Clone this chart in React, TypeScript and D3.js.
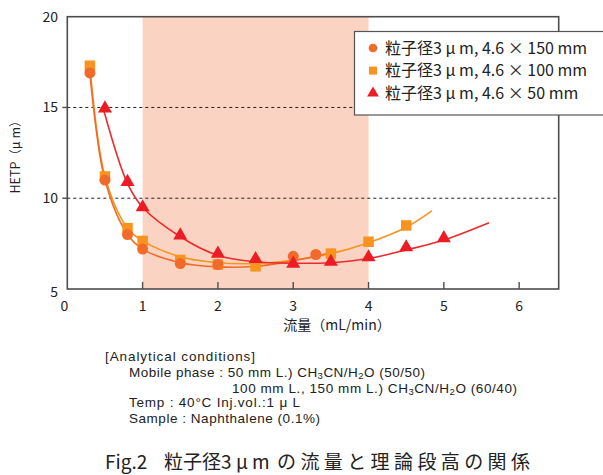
import * as React from "react";
import * as d3 from "d3";

// measured points
const flow150 = [0.3, 0.5, 0.8, 1.0, 1.5, 2.0, 3.0, 3.3];
const hetp150 = [16.9, 11.0, 8.0, 7.2, 6.4, 6.35, 6.8, 6.9];
const flow100 = [0.3, 0.5, 0.8, 1.0, 1.5, 2.0, 2.5, 3.5, 4.0, 4.5];
const hetp100 = [17.3, 11.2, 8.35, 7.65, 6.6, 6.35, 6.25, 6.95, 7.6, 8.5];
const flow50 = [0.5, 0.8, 1.0, 1.5, 2.0, 2.5, 3.0, 3.5, 4.0, 4.5, 5.0];
const hetp50 = [14.95, 10.9, 9.5, 7.95, 6.95, 6.65, 6.4, 6.5, 6.75, 7.3, 7.8];

// fitted curves
const fitFlow150 = [0.3, 0.5, 0.8, 1.0, 1.5, 2.0, 2.5, 3.0, 3.5];
const fitHetp150 = [16.9, 11.0, 8.0, 7.2, 6.45, 6.22, 6.25, 6.55, 7.0];
const fitFlow100 = [0.3, 0.5, 0.8, 1.0, 1.5, 2.0, 2.5, 3.0, 3.5, 4.0, 4.5, 4.84];
const fitHetp100 = [17.3, 11.2, 8.35, 7.65, 6.78, 6.45, 6.4, 6.6, 6.95, 7.55, 8.4, 9.3];
const fitFlow50 = [0.48, 0.8, 1.0, 1.5, 2.0, 2.5, 3.0, 3.5, 4.0, 4.5, 5.0, 5.6];
const fitHetp50 = [14.9, 10.8, 9.5, 7.88, 6.85, 6.5, 6.42, 6.45, 6.68, 7.15, 7.7, 8.65];

const xTicks = [0, 1, 2, 3, 4, 5, 6];
const yTicks = [5, 10, 15, 20];
const gridLines = [10, 15];
const shadeRange = [1, 4];

const legendLabels = [
  "粒子径3 μ m, 4.6 × 150 mm",
  "粒子径3 μ m, 4.6 × 100 mm",
  "粒子径3 μ m, 4.6 × 50 mm",
];

const FONT = "'Noto Sans CJK JP', 'Noto Sans', sans-serif";
const LATIN = "'Liberation Sans', Arial, sans-serif";

function App() {
  const ref = React.useRef<SVGSVGElement>(null);

  React.useEffect(() => {
    const svg = d3.select(ref.current);
    svg.selectAll("*").remove();

    const left = 67.3, right = 558.7, top = 16.7, bottom = 289;
    const x = d3.scaleLinear().domain([0, 6.525]).range([left, right]);
    const y = d3.scaleLinear().domain([5, 20]).range([bottom, top]);

    const series = [
      { flow: flow100, hetp: hetp100, fx: fitFlow100, fy: fitHetp100, color: "#f7931e", line: "#f7941d", shape: "square" },
      { flow: flow150, hetp: hetp150, fx: fitFlow150, fy: fitHetp150, color: "#f26a2a", line: "#f06a28", shape: "circle" },
      { flow: flow50, hetp: hetp50, fx: fitFlow50, fy: fitHetp50, color: "#ed1c24", line: "#ee2a2e", shape: "triangle" },
    ];
    const symType = (s: string) =>
      s === "circle" ? d3.symbolCircle : s === "square" ? d3.symbolSquare : d3.symbolTriangle;

    // shaded flow range
    svg.append("rect")
      .attr("x", x(shadeRange[0]))
      .attr("y", top)
      .attr("width", x(shadeRange[1]) - x(shadeRange[0]))
      .attr("height", bottom - top)
      .attr("fill", "#fad3c3");

    svg.selectAll("line.grid")
      .data(gridLines)
      .enter()
      .append("line")
      .attr("x1", left)
      .attr("x2", right)
      .attr("y1", d => y(d))
      .attr("y2", d => y(d))
      .attr("stroke", "#222")
      .attr("stroke-width", 1)
      .attr("stroke-dasharray", "3,3");

    const curve = d3.line().curve(d3.curveCatmullRom.alpha(0.5));
    series.forEach(s => {
      const pts = s.fx.map((f, i) => [x(f), y(s.fy[i])] as [number, number]);
      svg.append("path")
        .attr("d", curve(pts))
        .attr("fill", "none")
        .attr("stroke", s.line)
        .attr("stroke-width", 1.6);
    });

    const markerSize: Record<string, number> = { circle: 95, square: 110, triangle: 85 };
    series.forEach(s => {
      svg.append("g")
        .selectAll("path")
        .data(s.flow)
        .enter()
        .append("path")
        .attr("d", d3.symbol().type(symType(s.shape)).size(markerSize[s.shape])())
        .attr("transform", (d, i) => "translate(" + x(d) + "," + y(s.hetp[i]) + ")")
        .attr("fill", s.color);
    });

    // frame
    svg.append("rect")
      .attr("x", left)
      .attr("y", top)
      .attr("width", right - left)
      .attr("height", bottom - top)
      .attr("fill", "none")
      .attr("stroke", "#4d4d4d")
      .attr("stroke-width", 1.6);

    // x ticks point inward
    svg.selectAll("line.xtick")
      .data(xTicks.filter(d => d > 0))
      .enter()
      .append("line")
      .attr("x1", d => x(d))
      .attr("x2", d => x(d))
      .attr("y1", bottom)
      .attr("y2", bottom - 7)
      .attr("stroke", "#4d4d4d")
      .attr("stroke-width", 1.4);

    svg.selectAll("text.xlab")
      .data(xTicks)
      .enter()
      .append("text")
      .attr("x", d => x(d) - (d === 0 ? 3 : 0))
      .attr("y", 311)
      .attr("text-anchor", "middle")
      .attr("font-family", FONT)
      .attr("font-size", 14)
      .attr("fill", "#222")
      .text(d => d);

    svg.selectAll("line.ytick")
      .data(gridLines)
      .enter()
      .append("line")
      .attr("x1", left - 5)
      .attr("x2", left)
      .attr("y1", d => y(d))
      .attr("y2", d => y(d))
      .attr("stroke", "#4d4d4d")
      .attr("stroke-width", 1.4);

    svg.selectAll("text.ylab")
      .data(yTicks)
      .enter()
      .append("text")
      .attr("x", 58)
      .attr("y", d => y(d) + 5 + (d === 5 ? 3 : 0))
      .attr("text-anchor", "end")
      .attr("font-family", FONT)
      .attr("font-size", 14)
      .attr("fill", "#222")
      .text(d => d);

    svg.append("text")
      .attr("transform", "translate(20,154) rotate(-90)")
      .attr("text-anchor", "middle")
      .attr("font-family", FONT)
      .attr("font-size", 12.5)
      .attr("fill", "#222")
      .text("HETP（μ m）");

    svg.append("text")
      .attr("x", 337)
      .attr("y", 330)
      .attr("text-anchor", "middle")
      .attr("font-family", FONT)
      .attr("font-size", 14)
      .attr("fill", "#222")
      .text("流量（mL/min）");

    // legend
    const lg = svg.append("g");
    lg.append("rect")
      .attr("x", 354.5)
      .attr("y", 31.5)
      .attr("width", 260)
      .attr("height", 83.5)
      .attr("fill", "#fff")
      .attr("stroke", "#555")
      .attr("stroke-width", 1.2);
    const legendShapes = [series[1], series[0], series[2]];
    legendLabels.forEach((lab, i) => {
      const cy = 48 + i * 22.6;
      const s = legendShapes[i];
      lg.append("path")
        .attr("d", d3.symbol().type(symType(s.shape)).size(s.shape === "square" ? 64 : 60)())
        .attr("transform", "translate(373," + cy + ")")
        .attr("fill", s.color);
      lg.append("text")
        .attr("x", 385)
        .attr("y", cy + 5.5)
        .attr("font-family", FONT)
        .attr("font-size", 16)
        .attr("fill", "#222")
        .text(lab);
    });

    // analytical conditions
    const cond = svg.append("g")
      .attr("font-family", LATIN)
      .attr("font-size", 13.5)
      .attr("fill", "#222");
    cond.append("text").attr("x", 105).attr("y", 361)
      .attr("textLength", 150).attr("lengthAdjust", "spacing")
      .text("[Analytical conditions]");

    const formula = (t: d3.Selection<SVGTextElement, unknown, null, undefined>, head: string, tail: string) => {
      t.append("tspan").text(head + "CH");
      t.append("tspan").attr("font-size", 9.5).attr("dy", 2).text("3");
      t.append("tspan").attr("dy", -2).text("CN/H");
      t.append("tspan").attr("font-size", 9.5).attr("dy", 2).text("2");
      t.append("tspan").attr("dy", -2).text("O" + tail);
    };
    formula(cond.append("text").attr("x", 129).attr("y", 377)
      .attr("textLength", 296).attr("lengthAdjust", "spacing"),
      "Mobile phase : 50 mm L.) ", " (50/50)");
    formula(cond.append("text").attr("x", 232).attr("y", 393)
      .attr("textLength", 285).attr("lengthAdjust", "spacing"),
      "100 mm L., 150 mm L.) ", " (60/40)");
    cond.append("text").attr("x", 129).attr("y", 407)
      .attr("textLength", 171).attr("lengthAdjust", "spacing")
      .text("Temp : 40°C   Inj.vol.:1 μ L");
    cond.append("text").attr("x", 129).attr("y", 422.5)
      .attr("textLength", 191).attr("lengthAdjust", "spacing")
      .text("Sample : Naphthalene (0.1%)");

    // caption
    const cap = svg.append("g")
      .attr("font-family", FONT)
      .attr("font-size", 19)
      .attr("fill", "#222");
    cap.append("text").attr("x", 105).attr("y", 468.5).text("Fig.2");
    cap.append("text").attr("x", 164).attr("y", 468.5).text("粒子径3");
    cap.append("text").attr("x", 236).attr("y", 468.5).text("μ");
    cap.append("text").attr("x", 252).attr("y", 468.5).text("m");
    cap.append("text").attr("x", 277).attr("y", 468.5)
      .attr("letter-spacing", 4.4).text("の流量と理論段高の関係");
  }, []);

  return (
    <svg ref={ref} width={603} height={475}
      style={{ position: "absolute", left: 0, top: 0, background: "#fff" }} />
  );
}

export default App;
